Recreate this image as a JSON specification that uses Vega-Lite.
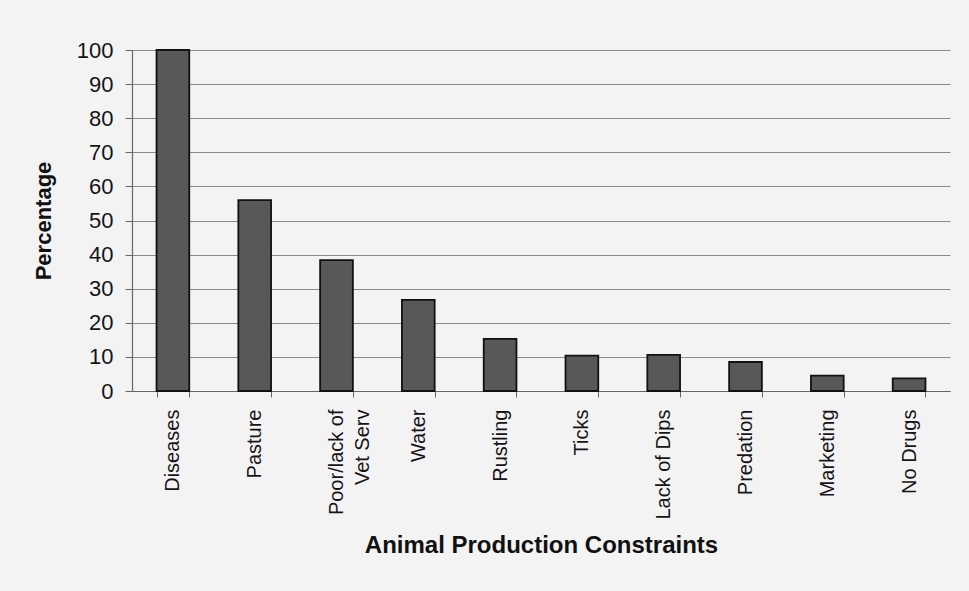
{
  "$schema": "https://vega.github.io/schema/vega-lite/v6.json",
  "autosize": "none",
  "width": 818,
  "height": 341,
  "padding": {"left": 132, "top": 50, "right": 19, "bottom": 200},
  "background": "#f3f3f3",
  "config": {
    "view": {"stroke": null},
    "font": "Liberation Sans",
    "axis": {"labelColor": "#151515", "titleColor": "#111111"}
  },
  "data": {
    "values": [
      {"constraint": "Diseases", "percentage": 100},
      {"constraint": "Pasture", "percentage": 56},
      {"constraint": "Poor/lack of Vet Serv", "percentage": 38.4},
      {"constraint": "Water", "percentage": 26.7},
      {"constraint": "Rustling", "percentage": 15.3},
      {"constraint": "Ticks", "percentage": 10.4},
      {"constraint": "Lack of Dips", "percentage": 10.6},
      {"constraint": "Predation", "percentage": 8.5},
      {"constraint": "Marketing", "percentage": 4.5},
      {"constraint": "No Drugs", "percentage": 3.7}
    ]
  },
  "mark": {"type": "bar", "fill": "#585858", "stroke": "#111111", "strokeWidth": 1.8},
  "encoding": {
    "x": {
      "field": "constraint",
      "type": "nominal",
      "sort": null,
      "scale": {"paddingInner": 0.6, "paddingOuter": 0.3},
      "axis": {
        "title": "Animal Production Constraints",
        "titleFontSize": 24,
        "titleFontWeight": "bold",
        "titlePadding": 14,
        "labelAngle": -90,
        "labelFontSize": 20,
        "labelLineHeight": 26,
        "labelPadding": 12,
        "labelExpr": "datum.value == 'Poor/lack of Vet Serv' ? ['Poor/lack of', 'Vet Serv'] : datum.label",
        "tickBand": "extent",
        "tickSize": 6,
        "tickColor": "#666666",
        "domainColor": "#666666",
        "domainWidth": 1.2
      }
    },
    "y": {
      "field": "percentage",
      "type": "quantitative",
      "scale": {"domain": [0, 100]},
      "axis": {
        "title": "Percentage",
        "titleFontSize": 22,
        "titleFontWeight": "bold",
        "titlePadding": 21,
        "values": [0, 10, 20, 30, 40, 50, 60, 70, 80, 90, 100],
        "labelFontSize": 22,
        "labelPadding": 12,
        "tickSize": 7,
        "tickColor": "#666666",
        "domainColor": "#666666",
        "domainWidth": 1.2,
        "grid": true,
        "gridColor": "#8a8a8a",
        "gridWidth": 1.1
      }
    }
  }
}
